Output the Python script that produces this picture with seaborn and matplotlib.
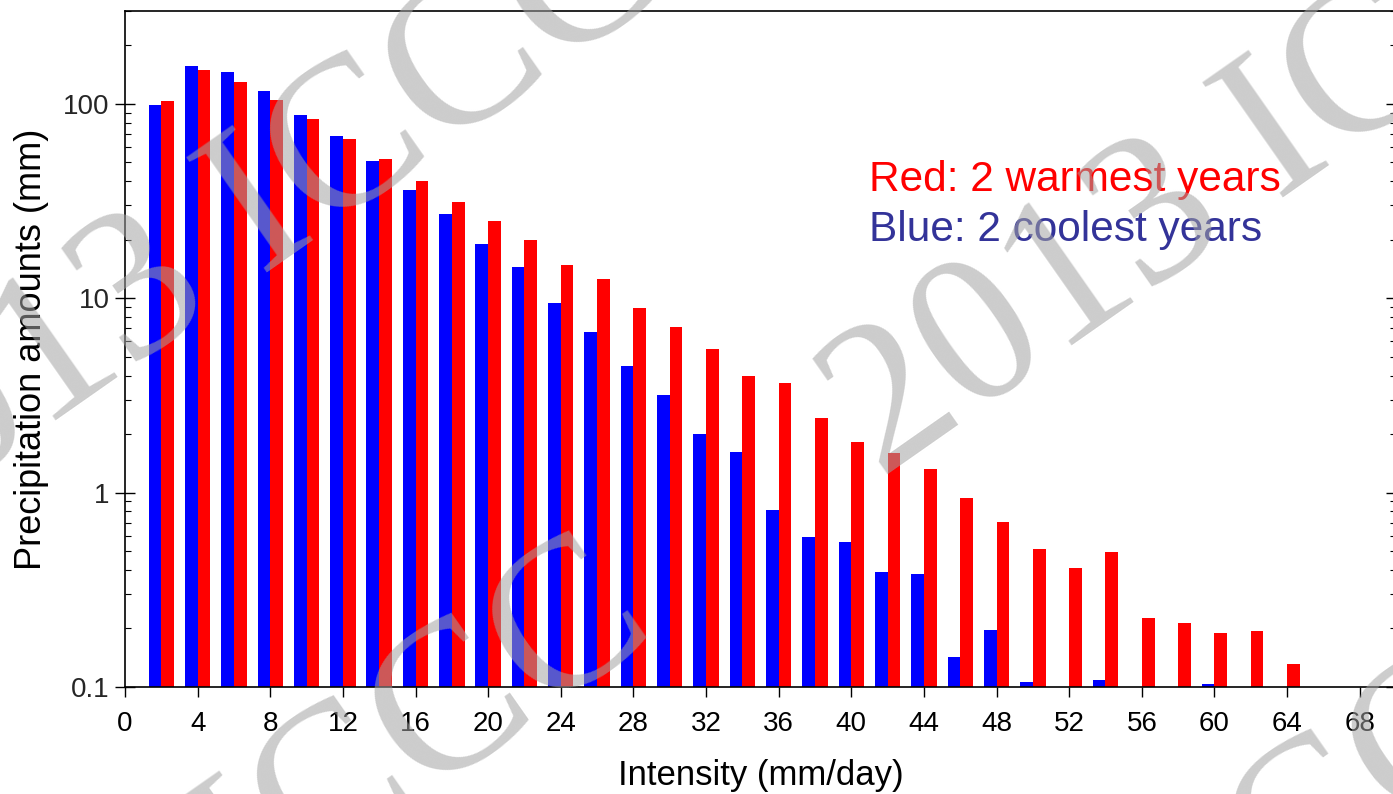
import numpy as np
import pandas as pd
import matplotlib
matplotlib.use("Agg")
import matplotlib.pyplot as plt
import seaborn as sns

# Daily precipitation intensity bins (mm/day), bin centres
intensity = [2, 4, 6, 8, 10, 12, 14, 16, 18, 20, 22, 24, 26, 28, 30, 32,
             34, 36, 38, 40, 42, 44, 46, 48, 50, 52, 54, 56, 58, 60, 62, 64]

# Precipitation amounts (mm) for the two coolest years (NaN = no rain in bin)
cool_amounts = [99, 156, 145, 116, 88, 68, 50.6, 36.2, 27.0, 19.1, 14.4, 9.4,
                6.66, 4.5, 3.16, 1.99, 1.61, 0.81, 0.59, 0.56, 0.39, 0.38,
                0.142, 0.197, 0.106, np.nan, 0.109, np.nan, np.nan, 0.104,
                np.nan, np.nan]

# Precipitation amounts (mm) for the two warmest years
warm_amounts = [103, 149, 130, 105, 83, 65.6, 51.7, 40, 31.1, 24.8, 20, 14.9,
                12.6, 8.85, 7.07, 5.45, 4.0, 3.68, 2.43, 1.83, 1.59, 1.33,
                0.94, 0.71, 0.515, 0.41, 0.497, 0.227, 0.214, 0.19, 0.193,
                0.132]

y_ticks = [0.1, 1, 10, 100]
y_tick_labels = ["0.1", "1", "10", "100"]
x_ticks = list(range(0, 69, 4))

df = pd.concat([
    pd.DataFrame({"intensity": intensity, "amount": cool_amounts, "group": "cool"}),
    pd.DataFrame({"intensity": intensity, "amount": warm_amounts, "group": "warm"}),
]).dropna()

sns.set_style("ticks")
plt.rcParams["font.family"] = ["Liberation Sans", "DejaVu Sans"]

W, H = 1393, 794
fig = plt.figure(figsize=(W / 100, H / 100), dpi=100)
left, right, top, bottom = 125, 1396, 11, 687
ax = fig.add_axes([left / W, (H - bottom) / H, (right - left) / W, (bottom - top) / H])

sns.barplot(data=df, x="intensity", y="amount", hue="group",
            hue_order=["cool", "warm"],
            palette={"cool": "#0000ff", "warm": "#ff0000"},
            native_scale=True, width=0.7, saturation=1, dodge=True,
            errorbar=None, legend=False, linewidth=0, ax=ax)

ax.set_yscale("log")
ax.set_ylim(0.1, 300)
ax.set_xlim(0, 70)

ax.set_yticks(y_ticks)
ax.set_yticklabels(y_tick_labels)
ax.yaxis.set_minor_locator(matplotlib.ticker.LogLocator(base=10, subs=np.arange(2, 10)))
ax.yaxis.set_minor_formatter(matplotlib.ticker.NullFormatter())
ax.set_xticks(x_ticks)
ax.set_xticklabels([str(v) for v in x_ticks])

ax.tick_params(axis="x", which="major", direction="out", length=7, width=1,
               labelsize=20, pad=10, color="black", labelcolor="black")
ax.tick_params(axis="y", which="major", direction="inout", length=14, width=1,
               labelsize=20, pad=4, left=True, right=True, color="black")
ax.tick_params(axis="y", which="minor", direction="in", length=4, width=0.8,
               left=True, right=True, color="black")

for side in ["left", "bottom", "top", "right"]:
    ax.spines[side].set_color("black")
    ax.spines[side].set_linewidth(1.2)

ax.set_xlabel("Intensity (mm/day)", fontsize=25, labelpad=16, color="black")
ax.set_ylabel("Precipitation amounts (mm)", fontsize=26, labelpad=10, color="black")

# Series key written as coloured text
fig.text(869 / W, 1 - 191 / H, "Red: 2 warmest years", color="#ff0000",
         fontsize=30.5, ha="left", va="baseline")
fig.text(869 / W, 1 - 241 / H, "Blue: 2 coolest years", color="#333399",
         fontsize=30.5, ha="left", va="baseline")

# Diagonal copyright watermark: three parallel bands of repeated text
wm_unit = "2013 ICCC     "
wm_period = (1027, -720)          # pixel advance of one repeat along the band
wm_bands = [(-142, 556), (874, 481), (822, 1235)]
for (sx, sy) in wm_bands:
    x0 = sx - 3 * wm_period[0]
    y0 = sy - 3 * wm_period[1]
    fig.text(x0 / W, 1 - y0 / H, wm_unit * 6, rotation=35, rotation_mode="anchor",
             ha="left", va="baseline", fontsize=155, family="Liberation Serif",
             color="#a3a3a3", alpha=0.55, zorder=10)

fig.savefig("out.png", dpi=100)
